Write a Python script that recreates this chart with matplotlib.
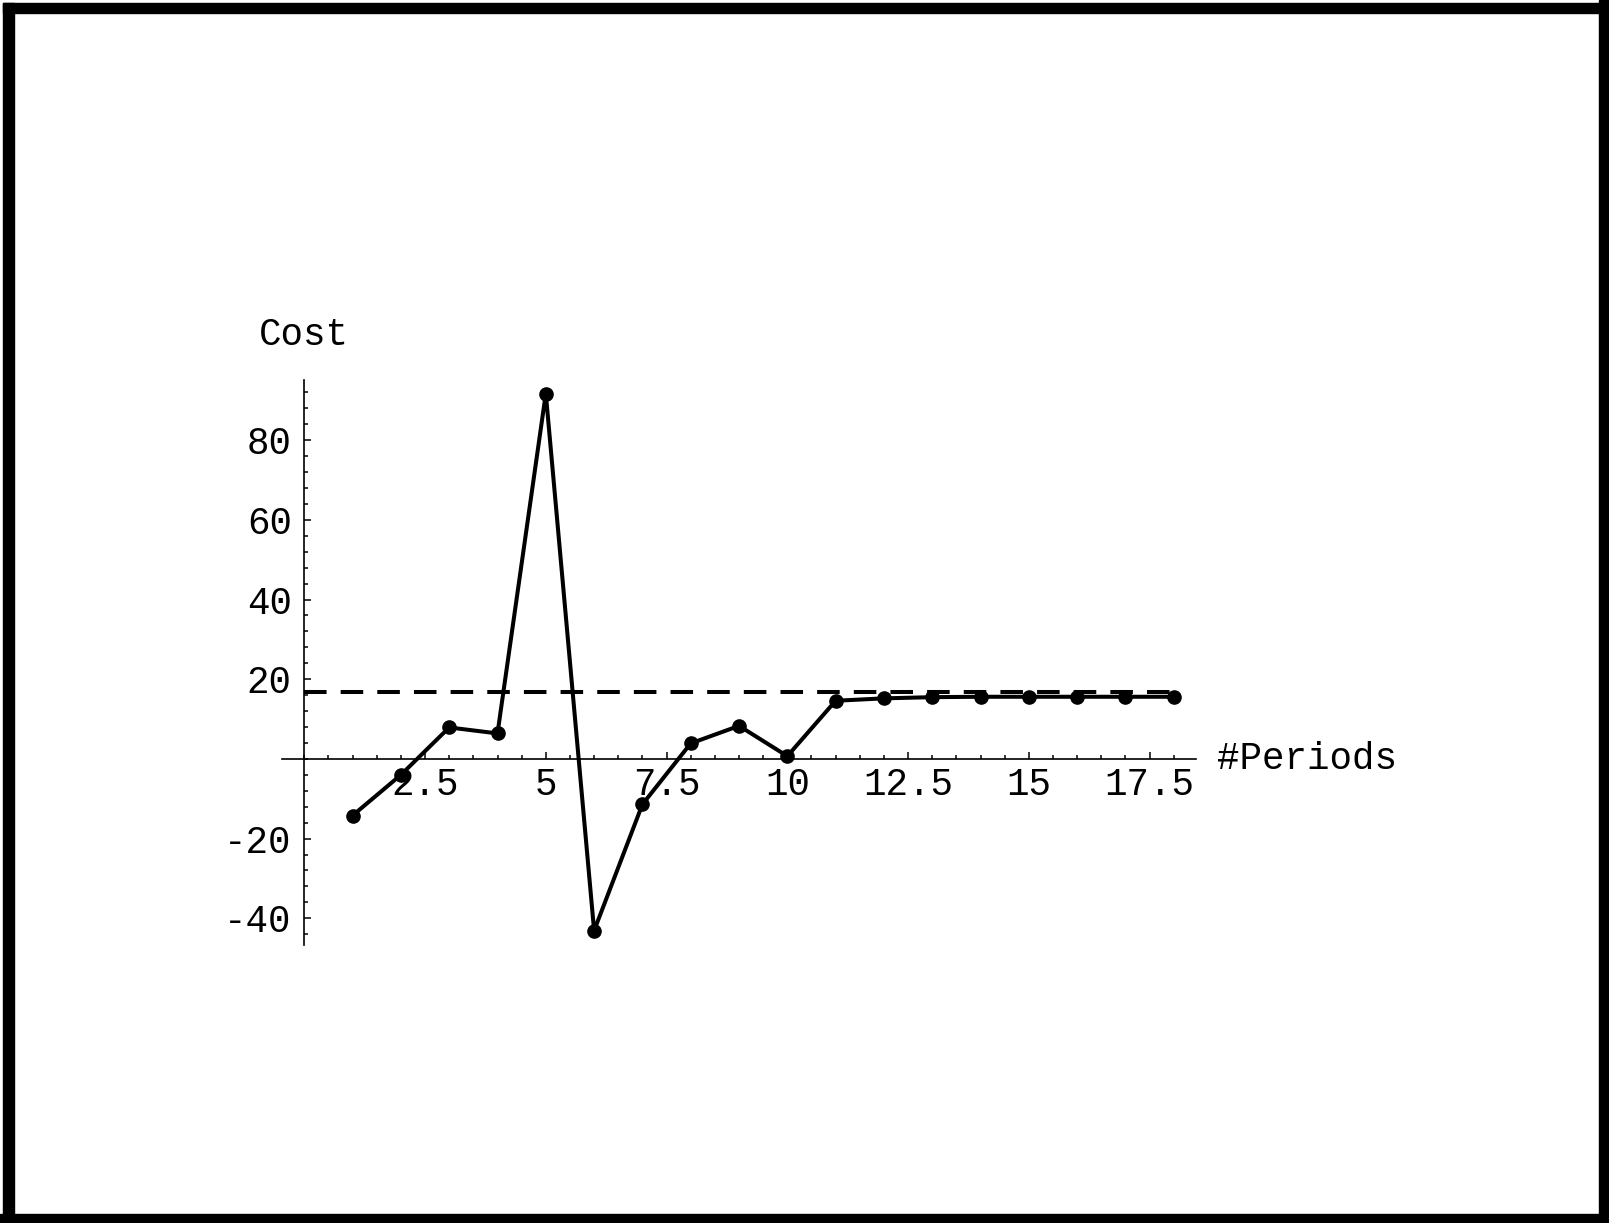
import matplotlib
matplotlib.use("Agg")
import matplotlib.pyplot as plt
from matplotlib.patches import Rectangle
from matplotlib.ticker import MultipleLocator

periods = [1, 2, 3, 4, 5, 6, 7, 8, 9, 10, 11, 12, 13, 14, 15, 16, 17, 18]
cost = [-14.2, -4.0, 7.9, 6.4, 91.7, -43.1, -11.4, 3.9, 8.3, 0.7,
        14.6, 15.2, 15.5, 15.6, 15.6, 15.6, 15.6, 15.6]
avg_cost = 16.7
avg_span = [0, 18]

xticks = [2.5, 5, 7.5, 10, 12.5, 15, 17.5]
xlabels = ["2.5", "5", "7.5", "10", "12.5", "15", "17.5"]
yticks = [-40, -20, 20, 40, 60, 80]
ylabels = ["-40", "-20", "20", "40", "60", "80"]

plt.rcParams['font.family'] = ['Liberation Mono', 'DejaVu Sans Mono']
fs = 27

W, H = 1609, 1223
fig = plt.figure(figsize=(W / 100, H / 100), dpi=100)

# black frame round the picture
for (x0, y0, w, h) in [(3, 0, 11, H - 3), (3, H - 13, W - 3, 10),
                       (W - 10, 0, 10, H), (0, 0, W, 9)]:
    fig.patches.append(Rectangle((x0 / W, y0 / H), w / W, h / H,
                                 transform=fig.transFigure, color='black',
                                 zorder=10))

ax = fig.add_axes([282.3 / W, 1 - 945 / H, (1196 - 282.3) / W, (945 - 380) / H])
ax.set_xlim(-0.455, 18.46)
ax.set_ylim(-46.7, 95.1)

for s in ['top', 'right']:
    ax.spines[s].set_visible(False)
ax.spines['left'].set_position(('data', 0))
ax.spines['bottom'].set_position(('data', 0))
for s in ['left', 'bottom']:
    ax.spines[s].set_linewidth(1.2)

ax.set_xticks(xticks, xlabels)
ax.set_yticks(yticks, ylabels)
ax.xaxis.set_minor_locator(MultipleLocator(0.5))
ax.yaxis.set_minor_locator(MultipleLocator(4))
ax.tick_params(which='both', direction='in', width=1.1, labelsize=fs)
ax.tick_params(which='major', length=5)
ax.tick_params(which='minor', length=3)
ax.tick_params(axis='x', pad=6)
ax.tick_params(axis='y', pad=9)

ax.plot(avg_span, [avg_cost, avg_cost], color='black', lw=2.9,
        ls=(0, (5.6, 3.5)), zorder=2)
ax.plot(periods, cost, color='black', lw=2.9, marker='o', ms=9.5,
        zorder=3, clip_on=False)

ax.text(-0.94, 106.4, "Cost", fontsize=fs, ha='left', va='center')
ax.text(18.9, 0, "#Periods", fontsize=fs, ha='left', va='center')

fig.savefig("out.png", dpi=100)
